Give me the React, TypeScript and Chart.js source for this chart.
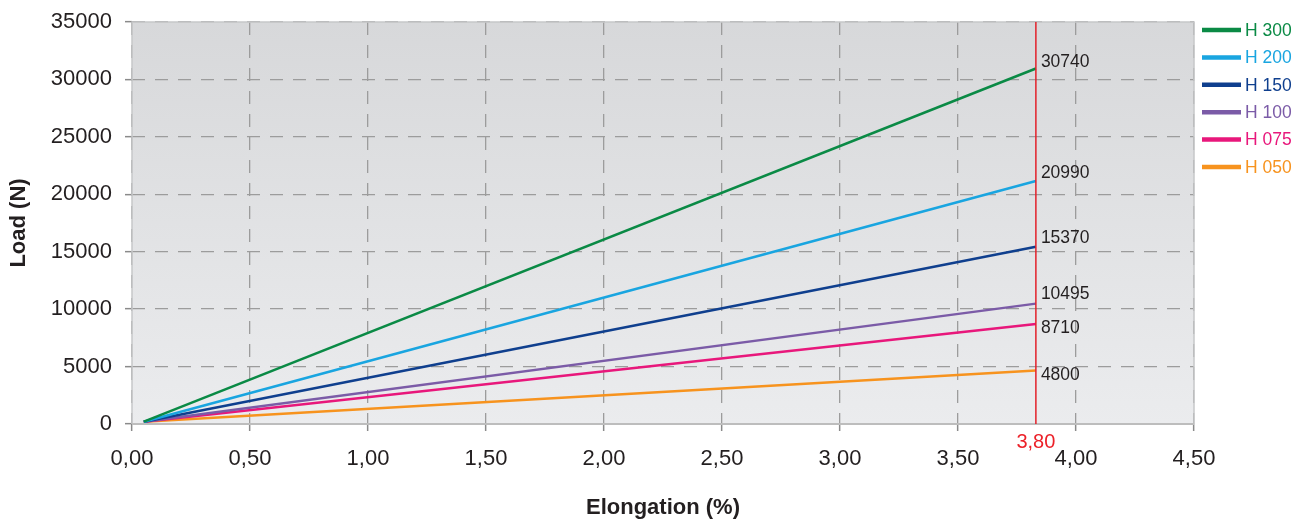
import React, { useEffect, useRef } from "react";
import { Chart, registerables } from "chart.js";

Chart.register(...registerables);

// ---- data ----
const seriesNames = ["H 300", "H 200", "H 150", "H 100", "H 075", "H 050"];
const seriesColors = ["#0a8a45", "#19a5e0", "#0f3f8e", "#7b5ba7", "#e8177b", "#f7931e"];
const startElongation = 0.05;
const startLoad = 200;
const endElongation = 3.83;
const endLoads = [30950, 21150, 15430, 10480, 8700, 4650];
const endLabels = ["30740", "20990", "15370", "10495", "8710", "4800"];
const limitLabel = "3,80";
const xTickValues = [0, 0.5, 1, 1.5, 2, 2.5, 3, 3.5, 4, 4.5];
const yTickValues = [0, 5000, 10000, 15000, 20000, 25000, 30000, 35000];
const xTitle = "Elongation (%)";
const yTitle = "Load (N)";

const FONT = "'Liberation Sans', Arial, Helvetica, sans-serif";
const TEXT = "#231f20";
const labelOffsets = [-6, -8, -9, -9, 4, 5];

const backgroundPlugin = {
  id: "plotBackground",
  beforeDraw(chart: any) {
    const { ctx, chartArea: a } = chart;
    const g = ctx.createLinearGradient(0, a.top, 0, a.bottom);
    g.addColorStop(0, "#d7d8da");
    g.addColorStop(1, "#ebecee");
    ctx.save();
    ctx.fillStyle = g;
    ctx.fillRect(a.left, a.top, a.right - a.left, a.bottom - a.top);
    ctx.restore();
  },
  beforeDatasetsDraw(chart: any) {
    const { ctx, chartArea: a } = chart;
    ctx.save();
    ctx.setLineDash([]);
    ctx.strokeStyle = "#c6c7c9";
    ctx.lineWidth = 1.5;
    ctx.beginPath();
    ctx.moveTo(a.left, a.bottom);
    ctx.lineTo(a.left, a.top);
    ctx.lineTo(a.right, a.top);
    ctx.lineTo(a.right, a.bottom);
    ctx.stroke();
    ctx.strokeStyle = "#bdbdbd";
    ctx.lineWidth = 2;
    ctx.beginPath();
    ctx.moveTo(a.left, a.bottom);
    ctx.lineTo(a.right, a.bottom);
    ctx.stroke();
    ctx.restore();
  },
};

const annotationPlugin = {
  id: "annotations",
  afterDatasetsDraw(chart: any) {
    const { ctx, chartArea: a, scales } = chart;
    const xs = scales.x;
    const ys = scales.y;
    const rx = xs.getPixelForValue(endElongation);
    ctx.save();
    ctx.strokeStyle = "#e3212a";
    ctx.lineWidth = 1.5;
    ctx.beginPath();
    ctx.moveTo(rx, a.top);
    ctx.lineTo(rx, a.bottom);
    ctx.stroke();
    ctx.fillStyle = "#ec2129";
    ctx.font = `20px ${FONT}`;
    ctx.textAlign = "center";
    ctx.textBaseline = "middle";
    ctx.fillText(limitLabel, rx, a.bottom + 18);
    ctx.fillStyle = TEXT;
    ctx.font = `17.5px ${FONT}`;
    ctx.textAlign = "left";
    endLoads.forEach((v, i) => {
      const y = ys.getPixelForValue(v) + labelOffsets[i];
      ctx.fillText(endLabels[i], rx + 5, y);
    });
    ctx.restore();
  },
  afterDraw(chart: any) {
    const { ctx, chartArea: a } = chart;
    ctx.save();
    ctx.font = `17.5px ${FONT}`;
    ctx.textAlign = "left";
    ctx.textBaseline = "middle";
    seriesNames.forEach((name, i) => {
      const y = 30 + i * 27.4;
      ctx.strokeStyle = seriesColors[i];
      ctx.lineWidth = 4.5;
      ctx.beginPath();
      ctx.moveTo(a.right + 8, y);
      ctx.lineTo(a.right + 47, y);
      ctx.stroke();
      ctx.fillStyle = seriesColors[i];
      ctx.fillText(name, a.right + 51, y + 1);
    });
    ctx.restore();
  },
};

export default function App() {
  const ref = useRef<HTMLCanvasElement | null>(null);

  useEffect(() => {
    if (!ref.current) return;
    Chart.defaults.font.family = FONT;
    const chart = new Chart(ref.current, {
      type: "line",
      data: {
        datasets: seriesNames.map((name, i) => ({
          label: name,
          data: [
            { x: startElongation, y: startLoad },
            { x: endElongation, y: endLoads[i] },
          ],
          borderColor: seriesColors[i],
          backgroundColor: seriesColors[i],
          borderWidth: 2.5,
          pointRadius: 0,
          tension: 0,
          fill: false,
        })),
      },
      options: {
        animation: false,
        responsive: true,
        maintainAspectRatio: false,
        devicePixelRatio: 1,
        layout: { padding: { top: 22, right: 109, left: 0, bottom: 0 } },
        plugins: {
          legend: { display: false },
          tooltip: { enabled: false },
        },
        scales: {
          x: {
            type: "linear",
            min: 0,
            max: 4.5,
            afterBuildTicks: (scale: any) => {
              scale.ticks = xTickValues.map((v) => ({ value: v }));
            },
            afterFit: (scale: any) => {
              scale.height = 98;
            },
            ticks: {
              font: { size: 22, family: FONT },
              color: TEXT,
              padding: 15,
              maxRotation: 0,
              autoSkip: false,
              callback: (v: any) => Number(v).toFixed(2).replace(".", ","),
            },
            grid: {
              color: "#9c9c9c",
              lineWidth: 1.3,
              tickLength: 7,
              tickColor: "#8a8a8a",
              tickWidth: 1.5,
              tickBorderDash: [],
            },
            border: { display: false, dash: [13, 10] },
            title: {
              display: true,
              text: xTitle,
              color: TEXT,
              font: { size: 22, weight: "bold", family: FONT },
              padding: { top: 0, bottom: 1 },
            },
          },
          y: {
            type: "linear",
            min: 0,
            max: 35000,
            afterBuildTicks: (scale: any) => {
              scale.ticks = yTickValues.map((v) => ({ value: v }));
            },
            afterFit: (scale: any) => {
              scale.width = 132;
              scale.paddingTop = 0;
              scale.paddingBottom = 0;
            },
            ticks: {
              font: { size: 22, family: FONT },
              color: TEXT,
              padding: 13,
              autoSkip: false,
              callback: (v: any) => String(v),
            },
            grid: {
              color: "#9c9c9c",
              lineWidth: 1.3,
              tickLength: 7,
              tickColor: "#8a8a8a",
              tickWidth: 1.5,
              tickBorderDash: [],
            },
            border: { display: false, dash: [13, 10] },
            title: {
              display: true,
              text: yTitle,
              color: TEXT,
              font: { size: 22, weight: "bold", family: FONT },
              padding: { top: 6, bottom: 0 },
            },
          },
        },
      },
      plugins: [backgroundPlugin, annotationPlugin],
    } as any);
    return () => chart.destroy();
  }, []);

  return (
    <div style={{ position: "fixed", left: 0, top: 0, width: 1303, height: 522 }}>
      <canvas ref={ref} />
    </div>
  );
}
